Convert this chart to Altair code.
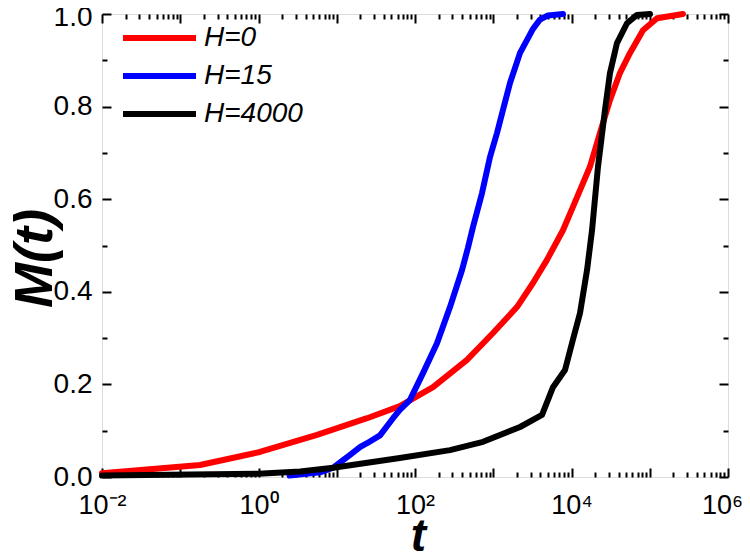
import altair as alt
import pandas as pd

# ---------------- data ----------------
series_names = ["H=0", "H=15", "H=4000"]
series_colors = ["#ff0000", "#0000ff", "#000000"]

t_h0 = [0.01, 0.179, 1.04, 5.6, 24.4, 64, 170, 462, 993, 2010, 3220, 4860, 7780,
        10400, 17200, 23100, 31000, 41700, 56000, 82000, 124000, 266000]
m_h0 = [0.008, 0.026, 0.054, 0.091, 0.127, 0.153, 0.194, 0.253, 0.311, 0.367, 0.419, 0.469, 0.533,
        0.583, 0.670, 0.743, 0.814, 0.873, 0.916, 0.965, 0.991, 1.0]

t_h15 = [2.5, 6.1, 9.0, 14.8, 20.0, 24.4, 35.7, 52.4, 64, 86, 127, 191, 280, 399, 475, 551,
         718, 908, 1117, 1333, 1637, 2200, 3220, 3960, 5000, 7780]
m_h15 = [0.003, 0.010, 0.020, 0.048, 0.065, 0.073, 0.090, 0.127, 0.145, 0.166, 0.225, 0.289, 0.367, 0.447, 0.495, 0.540,
         0.613, 0.691, 0.743, 0.793, 0.851, 0.916, 0.968, 0.988, 0.997, 1.0]

t_h4000 = [0.01, 1.0, 3.4, 9.0, 64, 280, 740, 2200, 4200, 5800, 8260, 10400, 12850,
           15800, 18300, 21800, 26800, 31000, 38100, 51200, 68700, 100700]
m_h4000 = [0.003, 0.007, 0.012, 0.020, 0.041, 0.058, 0.076, 0.108, 0.134, 0.194, 0.231, 0.296, 0.354,
           0.447, 0.533, 0.670, 0.793, 0.872, 0.937, 0.980, 0.998, 1.0]

x_label_values = [1e-2, 1e0, 1e2, 1e4, 1e6]
x_label_texts = ["10⁻²", "10⁰", "10²", "10⁴", "10⁶"]
x_major_ticks = [10.0 ** k for k in range(-2, 7)]
x_minor_ticks = [m * 10.0 ** k for k in range(-2, 6) for m in range(2, 10)]
y_label_values = [0.0, 0.2, 0.4, 0.6, 0.8, 1.0]
y_minor_ticks = [0.1, 0.3, 0.5, 0.7, 0.9]

# ---------------- table ----------------
rows = []
for name, ts, ms in zip(series_names, [t_h0, t_h15, t_h4000], [m_h0, m_h15, m_h4000]):
    for t, m in zip(ts, ms):
        rows.append({"series": name, "t": t, "M": m})
df = pd.DataFrame(rows)

label_expr = ""
for v, s in zip(x_label_values, x_label_texts):
    label_expr += f"datum.value <= {v * 1.01} ? '{s}' : "
label_expr += "''"

FONT = "Liberation Sans, Arial, sans-serif"
xscale = alt.Scale(type="log", domain=[1e-2, 1e6], nice=False, padding=0)
yscale = alt.Scale(domain=[0, 1], nice=False, zero=False, padding=0)

base = alt.Chart(df)

lines = base.mark_line(strokeWidth=6, strokeCap="round", strokeJoin="round").encode(
    x=alt.X("t:Q", scale=xscale,
            axis=alt.Axis(orient="bottom", values=x_label_values, labelExpr=label_expr,
                          ticks=False, domain=False, grid=False, labelFontSize=27,
                          labelFont=FONT, labelPadding=15, labelColor="black",
                          labelFlush=False, labelOverlap=False,
                          labelOffset={"condition": {"test": "datum.value > 1e5", "value": -6}, "value": 0},
                          title="t", titleFont=FONT, titleFontSize=46, titleFontStyle="italic",
                          titleFontWeight="bold", titleColor="black",
                          titleX=316, titleY=73, titleBaseline="alphabetic", titleAlign="center")),
    y=alt.Y("M:Q", scale=yscale,
            axis=alt.Axis(orient="left", values=y_label_values, format=".1f",
                          ticks=False, domain=False, grid=False, labelFontSize=28,
                          labelFont=FONT, labelPadding=10, labelColor="black",
                          labelFlush=False, labelOverlap=False,
                          labelOffset={"condition": {"test": "datum.value > 0.95", "value": 3}, "value": 0},
                          title="M(t)", titleFont=FONT, titleFontSize=54, titleFontStyle="italic",
                          titleFontWeight="bold", titleColor="black",
                          titleX=-51, titleY=244, titleAngle=270, titleBaseline="alphabetic",
                          titleAlign="center")),
    color=alt.Color("series:N",
                    scale=alt.Scale(domain=series_names, range=series_colors),
                    legend=alt.Legend(title=None, orient="none", legendX=18, legendY=5,
                                      symbolType="stroke", symbolSize=5329, symbolStrokeWidth=6,
                                      labelFontSize=28, labelFontStyle="italic", labelFont=FONT,
                                      labelColor="black", clipHeight=38, rowPadding=0,
                                      labelOffset=5, padding=0)),
)


def tick_layer(xorient, xvals, xsize, yorient, yvals, ysize):
    return base.mark_point(opacity=0).encode(
        x=alt.X("t:Q", scale=xscale,
                axis=alt.Axis(orient=xorient, values=xvals, tickSize=xsize, offset=-xsize,
                              labels=False, domain=False, grid=False, title=None,
                              tickWidth=2, tickColor="black")),
        y=alt.Y("M:Q", scale=yscale,
                axis=alt.Axis(orient=yorient, values=yvals, tickSize=ysize, offset=-ysize,
                              labels=False, domain=False, grid=False, title=None,
                              tickWidth=2, tickColor="black")),
    )


t1 = tick_layer("bottom", x_major_ticks, 9, "left", y_label_values, 9)
t2 = tick_layer("bottom", x_minor_ticks, 5, "left", y_minor_ticks, 5)
t3 = tick_layer("top", x_major_ticks, 9, "right", y_label_values, 9)
t4 = tick_layer("top", x_minor_ticks, 5, "right", y_minor_ticks, 5)

chart = alt.layer(t1, t2, t3, t4, lines).resolve_axis(
    x="independent", y="independent"
).properties(
    width=626, height=463,
    autosize=alt.AutoSizeParams(type="none"),
    padding={"left": 94, "top": 6, "right": 14, "bottom": 75},
).configure_view(stroke="black", strokeWidth=2).configure(font=FONT)

chart.save("out.html", embed_options={"renderer": "svg", "actions": False})
